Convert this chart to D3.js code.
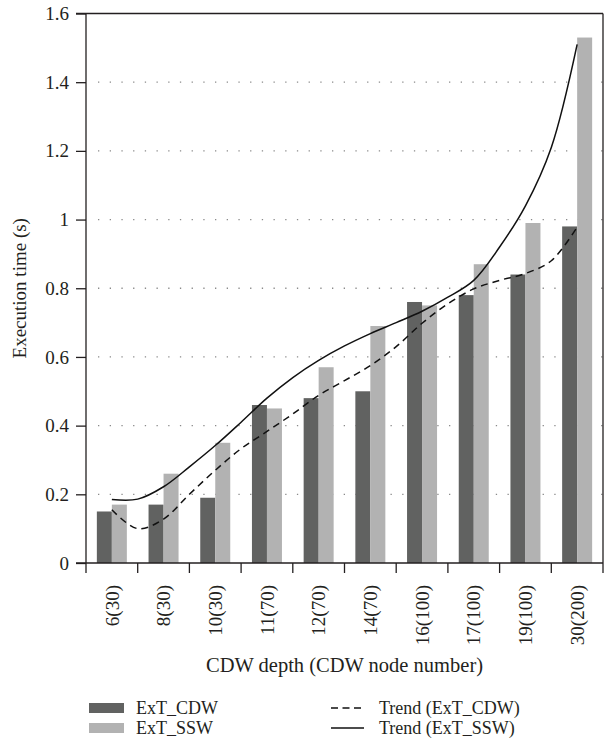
<!DOCTYPE html>
<html>
<head>
<meta charset="utf-8">
<script src="https://cdn.jsdelivr.net/npm/d3@7"></script>
<style>
  body { margin: 0; background: #fff; }
  text { font-family: "Liberation Serif", "DejaVu Serif", serif; fill: #231f20; }
</style>
</head>
<body>
<svg id="main" width="608" height="740"></svg>
<script>
var categories = ["6(30)", "8(30)", "10(30)", "11(70)", "12(70)", "14(70)", "16(100)", "17(100)", "19(100)", "30(200)"];
var extCDW = [0.15, 0.17, 0.19, 0.46, 0.48, 0.50, 0.76, 0.78, 0.84, 0.98];
var extSSW = [0.17, 0.26, 0.35, 0.45, 0.57, 0.69, 0.75, 0.87, 0.99, 1.53];
var yTicks = [0, 0.2, 0.4, 0.6, 0.8, 1, 1.2, 1.4, 1.6];

// trend lines, read at every half category
var trendPos = [0, 0.5, 1, 1.5, 2, 2.5, 3, 3.5, 4, 4.5, 5, 5.5, 6, 6.5, 7, 7.5, 8, 8.5, 9];
var trendCDW = [0.155, 0.1, 0.128, 0.2, 0.27, 0.333, 0.383, 0.434, 0.488, 0.531, 0.575, 0.63, 0.698, 0.755, 0.798, 0.823, 0.843, 0.88, 0.978];
var trendSSW = [0.185, 0.186, 0.222, 0.28, 0.342, 0.41, 0.48, 0.54, 0.59, 0.632, 0.668, 0.70, 0.733, 0.774, 0.823, 0.92, 1.04, 1.21, 1.51];

var cDark = "#616261", cLight = "#b2b2b2", ink = "#231f20";
var fs = 19;

var L = 86, R = 603, T = 13.5, B = 563;

var s = d3.select("#main");

var x = d3.scaleBand().domain(categories).range([L, R]).padding(0);
var xSub = d3.scaleBand().domain(["cdw", "ssw"]).range([0, 30]);
var y = d3.scaleLinear().domain([0, 1.6]).range([B, T]);
var xt = d3.scaleLinear().domain([0, categories.length - 1])
  .range([x(categories[0]) + x.bandwidth() / 2, x(categories[categories.length - 1]) + x.bandwidth() / 2]);

// dotted grid
s.append("g").selectAll("line")
  .data(yTicks.filter(function(d) { return d > 0 && d < 1.6; })).enter()
  .append("line")
  .attr("x1", L + 12).attr("x2", R)
  .attr("y1", function(d) { return y(d); })
  .attr("y2", function(d) { return y(d); })
  .attr("stroke", "#8a8a8a").attr("stroke-width", 1.3)
  .attr("stroke-dasharray", "1.3,10.4");

// bars
var groups = s.append("g").selectAll("g")
  .data(categories).enter()
  .append("g")
  .attr("transform", function(d) { return "translate(" + (x(d) + x.bandwidth() / 2 - 15) + ",0)"; });

groups.append("rect")
  .attr("x", xSub("cdw")).attr("width", xSub.bandwidth())
  .attr("y", function(d, i) { return y(extCDW[i]); })
  .attr("height", function(d, i) { return B - y(extCDW[i]); })
  .attr("fill", cDark);

groups.append("rect")
  .attr("x", xSub("ssw")).attr("width", xSub.bandwidth())
  .attr("y", function(d, i) { return y(extSSW[i]); })
  .attr("height", function(d, i) { return B - y(extSSW[i]); })
  .attr("fill", cLight);

// trend lines
var line = d3.line()
  .x(function(d) { return xt(d[0]); })
  .y(function(d) { return y(d[1]); })
  .curve(d3.curveCatmullRom.alpha(0.5));

s.append("path")
  .attr("d", line(d3.zip(trendPos, trendCDW)))
  .attr("fill", "none").attr("stroke", "#111").attr("stroke-width", 1.5)
  .attr("stroke-dasharray", "7,5");

s.append("path")
  .attr("d", line(d3.zip(trendPos, trendSSW)))
  .attr("fill", "none").attr("stroke", "#111").attr("stroke-width", 1.5);

// axes
var yAxis = s.append("g")
  .attr("transform", "translate(" + L + ",0)")
  .call(d3.axisLeft(y).tickValues(yTicks).tickSize(10).tickPadding(7)
    .tickFormat(function(d) { return d3.format("")(+d.toFixed(1)); }));
yAxis.select(".domain").remove();
yAxis.selectAll("line").attr("stroke", ink).attr("stroke-width", 1.3);
yAxis.selectAll("text").attr("font-size", fs).attr("font-family", null).style("fill", ink);

var xAxis = s.append("g")
  .attr("transform", "translate(0," + B + ")")
  .call(d3.axisBottom(x).tickSize(0).tickPadding(0));
xAxis.select(".domain").remove();
xAxis.selectAll("text")
  .attr("font-size", fs).attr("font-family", null).style("fill", ink)
  .attr("transform", "rotate(-90)")
  .attr("x", -22).attr("y", 0).attr("dy", "0.35em")
  .attr("text-anchor", "end");

// x tick marks at band edges
s.append("g").selectAll("line")
  .data(categories.concat(["end"])).enter()
  .append("line")
  .attr("x1", function(d, i) { return i < categories.length ? x(d) : R; })
  .attr("x2", function(d, i) { return i < categories.length ? x(d) : R; })
  .attr("y1", B).attr("y2", B + 10)
  .attr("stroke", ink).attr("stroke-width", 1.3);

// frame
var frame = s.append("g").attr("stroke", ink).attr("stroke-width", 1.3).attr("fill", "none");
frame.append("line").attr("x1", L).attr("x2", L).attr("y1", T).attr("y2", B);
frame.append("line").attr("x1", R).attr("x2", R).attr("y1", T).attr("y2", B);
frame.append("line").attr("x1", L - 10).attr("x2", R).attr("y1", T).attr("y2", T);
frame.append("line").attr("x1", L - 10).attr("x2", R).attr("y1", B).attr("y2", B);

// titles
s.append("text")
  .attr("transform", "translate(26," + ((T + B) / 2) + ") rotate(-90)")
  .attr("text-anchor", "middle")
  .attr("font-size", 19)
  .text("Execution time (s)");

s.append("text")
  .attr("x", (L + R) / 2).attr("y", 672)
  .attr("text-anchor", "middle")
  .attr("font-size", 20.5)
  .text("CDW depth (CDW node number)");

// legend
var legend = s.append("g").attr("font-size", 18);
var leftItems = [["ExT_CDW", cDark], ["ExT_SSW", cLight]];
var rightItems = [["Trend (ExT_CDW)", "7,4.5"], ["Trend (ExT_SSW)", null]];

leftItems.forEach(function(it, i) {
  var cy = 708 + i * 20;
  legend.append("rect").attr("x", 89).attr("y", cy - 5).attr("width", 35).attr("height", 10).attr("fill", it[1]);
  legend.append("text").attr("x", 136).attr("y", cy).attr("dy", "0.35em").text(it[0]);
});

rightItems.forEach(function(it, i) {
  var cy = 708 + i * 20;
  var l = legend.append("line").attr("x1", 331).attr("x2", 364).attr("y1", cy).attr("y2", cy)
    .attr("stroke", "#111").attr("stroke-width", 1.3);
  if (it[1]) l.attr("stroke-dasharray", it[1]);
  legend.append("text").attr("x", 379).attr("y", cy).attr("dy", "0.35em").text(it[0]);
});
</script>
</body>
</html>
